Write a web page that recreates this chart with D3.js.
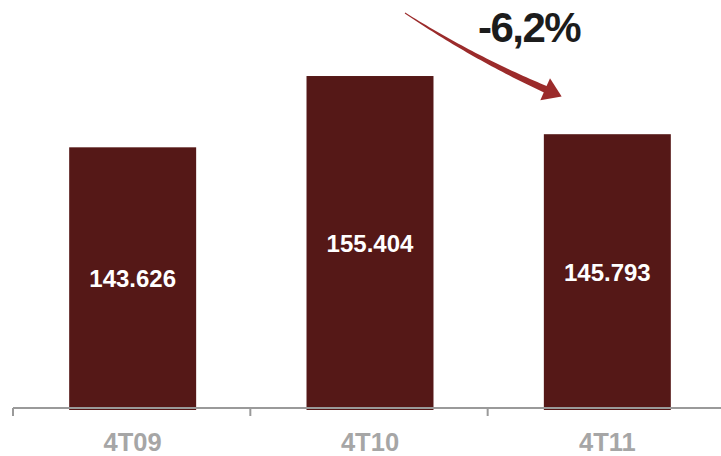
<!DOCTYPE html>
<html>
<head>
<meta charset="utf-8">
<script src="https://cdn.jsdelivr.net/npm/d3@7"></script>
<style>
  html, body { margin: 0; padding: 0; background: #fff; }
  svg { display: block; }
  text { font-family: "Liberation Sans", Arial, sans-serif; font-weight: bold; }
</style>
</head>
<body>
<svg id="chart" width="721" height="456"></svg>
<script>
// Quarterly totals
const categories = ["4T09", "4T10", "4T11"];
const values = [143626, 155404, 145793];

const W = 721, H = 456;
const svg = d3.select("#chart");

// Band per quarter, ticks at band edges
const x = d3.scaleBand().domain(categories).range([13, 725]).padding(0);
const barFrac = 0.535;
const y = d3.scaleLinear().domain([100000, 160000]).range([411.4, 48.2]);
const baseY = 410;
const axisY = 408;

const fmt = v => d3.format(",")(v).replace(/,/g, ".");

// Bars
svg.append("g").selectAll("rect")
  .data(values)
  .join("rect")
  .attr("x", (d, i) => x(categories[i]) + x.bandwidth() * (1 - barFrac) / 2 + 1)
  .attr("width", x.bandwidth() * barFrac)
  .attr("y", d => y(d))
  .attr("height", d => baseY - y(d))
  .attr("fill", "#551817");

// Value labels at the vertical middle of each bar
svg.append("g").selectAll("text")
  .data(values)
  .join("text")
  .attr("x", (d, i) => x(categories[i]) + x.bandwidth() / 2 + 1)
  .attr("y", d => (y(d) + baseY) / 2 + 8.5)
  .attr("text-anchor", "middle")
  .attr("fill", "#ffffff")
  .attr("font-size", 24)
  .text(d => fmt(d));

// Category axis
const axis = svg.append("g");
axis.append("line")
  .attr("x1", x.range()[0]).attr("x2", W)
  .attr("y1", axisY).attr("y2", axisY)
  .attr("stroke", "#9a9a9a").attr("stroke-width", 2);
const edges = categories.map(c => x(c)).concat([x.range()[1]]);
axis.selectAll("line.tick")
  .data(edges)
  .join("line")
  .attr("class", "tick")
  .attr("x1", d => d).attr("x2", d => d)
  .attr("y1", axisY).attr("y2", axisY + 8)
  .attr("stroke", "#9a9a9a").attr("stroke-width", 2);
axis.selectAll("text")
  .data(categories)
  .join("text")
  .attr("x", d => x(d) + x.bandwidth() / 2 + 1)
  .attr("y", 451)
  .attr("text-anchor", "middle")
  .attr("fill", "#a6a6a6")
  .attr("font-size", 25.5)
  .text(d => d);

// Change from 4T10 to 4T11
const change = (values[2] / values[1] - 1) * 100;
svg.append("text")
  .attr("x", 529)
  .attr("y", 42)
  .attr("text-anchor", "middle")
  .attr("fill", "#1c1c1c")
  .attr("font-size", 42)
  .attr("letter-spacing", -1.5)
  .text(d3.format(".1f")(change).replace(".", ",").replace("−", "-") + "%");

// Tapered curved arrow
const p0 = [405, 13], c = [473.6, 57.8], p1 = [547, 90];
const N = 40, w0 = 0.5, w1 = 3.5;
const left = [], right = [];
for (let i = 0; i <= N; i++) {
  const t = i / N, mt = 1 - t;
  const px = mt * mt * p0[0] + 2 * mt * t * c[0] + t * t * p1[0];
  const py = mt * mt * p0[1] + 2 * mt * t * c[1] + t * t * p1[1];
  const dx = 2 * mt * (c[0] - p0[0]) + 2 * t * (p1[0] - c[0]);
  const dy = 2 * mt * (c[1] - p0[1]) + 2 * t * (p1[1] - c[1]);
  const len = Math.hypot(dx, dy);
  const nx = -dy / len, ny = dx / len;
  const w = w0 + (w1 - w0) * t;
  left.push([px + nx * w, py + ny * w]);
  right.push([px - nx * w, py - ny * w]);
}
const shaft = left.concat(right.reverse());
svg.append("path")
  .attr("d", "M" + shaft.map(p => p.join(",")).join("L") + "Z")
  .attr("fill", "#9b2b2b");

const tx = p1[0] - c[0], ty = p1[1] - c[1];
const tl = Math.hypot(tx, ty);
const ux = tx / tl, uy = ty / tl, nx = -uy, ny = ux;
const head = [
  [p1[0] - ux * 2 + nx * 12, p1[1] - uy * 2 + ny * 12],
  [p1[0] + ux * 16, p1[1] + uy * 16],
  [p1[0] - ux * 2 - nx * 12, p1[1] - uy * 2 - ny * 12]
];
svg.append("path")
  .attr("d", "M" + head.map(p => p.join(",")).join("L") + "Z")
  .attr("fill", "#9b2b2b");
</script>
</body>
</html>
